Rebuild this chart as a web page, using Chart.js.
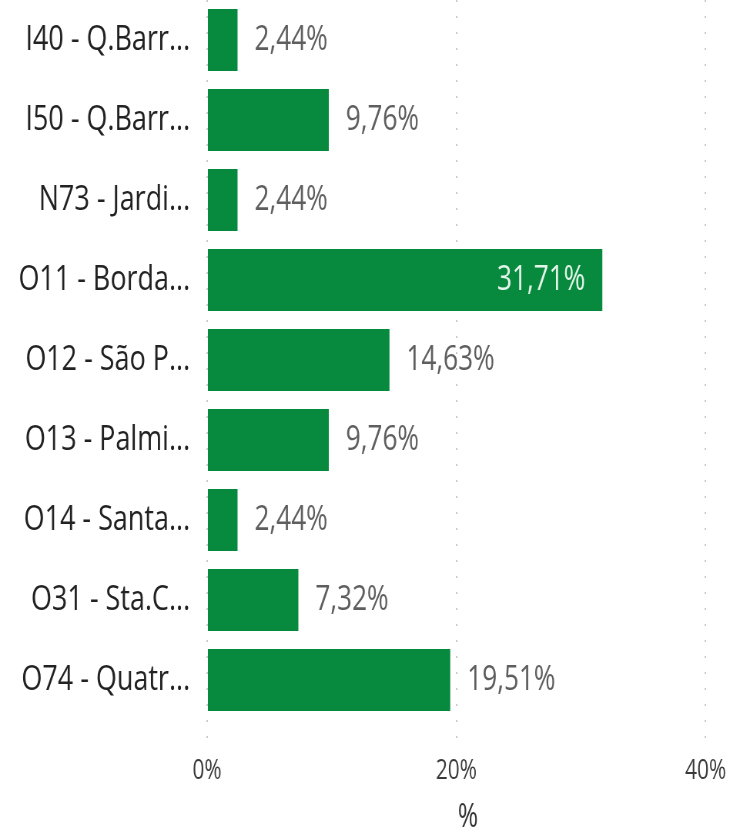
<!DOCTYPE html>
<html lang="pt">
<head>
  <meta charset="UTF-8">
  <title>%</title>
  <script src="https://cdn.jsdelivr.net/npm/chart.js"></script>
  <style>
    body {
      margin: 0;
      background: #ffffff;
      overflow: hidden;
    }
    /* the source picture is squeezed sideways, so the chart is drawn wider and scaled down in x */
    #wrap {
      width: 736px;
      height: 834px;
      overflow: hidden;
    }
    #barChart {
      transform: scaleX(0.77);
      transform-origin: 0 0;
    }
  </style>
</head>
<body>
  <div id="wrap">
    <canvas id="barChart" width="956" height="834"></canvas>
  </div>

  <script>
    const categories = [
      "I40 - Q.Barr...",
      "I50 - Q.Barr...",
      "N73 - Jardi...",
      "O11 - Borda...",
      "O12 - São P...",
      "O13 - Palmi...",
      "O14 - Santa...",
      "O31 - Sta.C...",
      "O74 - Quatr..."
    ];
    const percentValues = [2.44, 9.76, 2.44, 31.71, 14.63, 9.76, 2.44, 7.32, 19.51];
    const xTicks = [0, 20, 40];
    const axisTitle = "%";

    const FONT = "'Open Sans', 'Noto Sans', sans-serif";
    const GREEN = "#088A3E";

    function fmt(v) {
      return v.toFixed(2).replace(".", ",") + "%";
    }

    // value next to each bar (inside, right aligned, for the biggest one)
    const valueLabels = {
      id: "valueLabels",
      afterDatasetsDraw(chart) {
        const ctx = chart.ctx;
        const meta = chart.getDatasetMeta(0);
        const maxVal = Math.max(...percentValues);
        ctx.save();
        ctx.font = "34px " + FONT;
        ctx.textBaseline = "middle";
        meta.data.forEach((bar, i) => {
          const v = percentValues[i];
          if (v === maxVal) {
            ctx.fillStyle = "#E4F5EA";
            ctx.textAlign = "right";
            ctx.fillText(fmt(v), bar.x - 22, bar.y);
          } else {
            ctx.fillStyle = "#5E5E5E";
            ctx.textAlign = "left";
            ctx.fillText(fmt(v), bar.x + 22, bar.y);
          }
        });
        ctx.restore();
      }
    };

    const ctx = document.getElementById("barChart").getContext("2d");
    new Chart(ctx, {
      type: "bar",
      data: {
        labels: categories,
        datasets: [{
          data: percentValues,
          backgroundColor: GREEN,
          barPercentage: 0.775,
          categoryPercentage: 1
        }]
      },
      options: {
        indexAxis: "y",
        responsive: false,
        animation: false,
        events: [],
        layout: { padding: 0 },
        plugins: {
          legend: { display: false },
          tooltip: { enabled: false }
        },
        scales: {
          x: {
            min: 0,
            max: 41.85,
            afterBuildTicks(scale) {
              scale.ticks = xTicks.map(v => ({ value: v }));
            },
            afterFit(scale) {
              scale.height = 114;
            },
            ticks: {
              color: "#3A3A3A",
              padding: 13,
              font: { family: FONT, size: 27 },
              callback: v => v + "%"
            },
            grid: {
              color: "#C8C8C8",
              lineWidth: 2,
              drawTicks: true,
              tickLength: 22,
              tickColor: "#C8C8C8",
              tickBorderDash: [2, 14]
            },
            border: { display: false, dash: [2, 14] },
            title: {
              display: true,
              text: axisTitle,
              color: "#333333",
              font: { family: FONT, size: 32, lineHeight: 1 },
              padding: { top: 0, bottom: 0 }
            }
          },
          y: {
            afterFit(scale) {
              scale.width = 269;
              scale.paddingTop = 0;
              scale.paddingBottom = 0;
            },
            ticks: {
              color: "#222222",
              padding: 22,
              font: { family: FONT, size: 35 }
            },
            grid: { display: false, drawTicks: false },
            border: { display: false }
          }
        }
      },
      plugins: [valueLabels]
    });
  </script>
</body>
</html>
